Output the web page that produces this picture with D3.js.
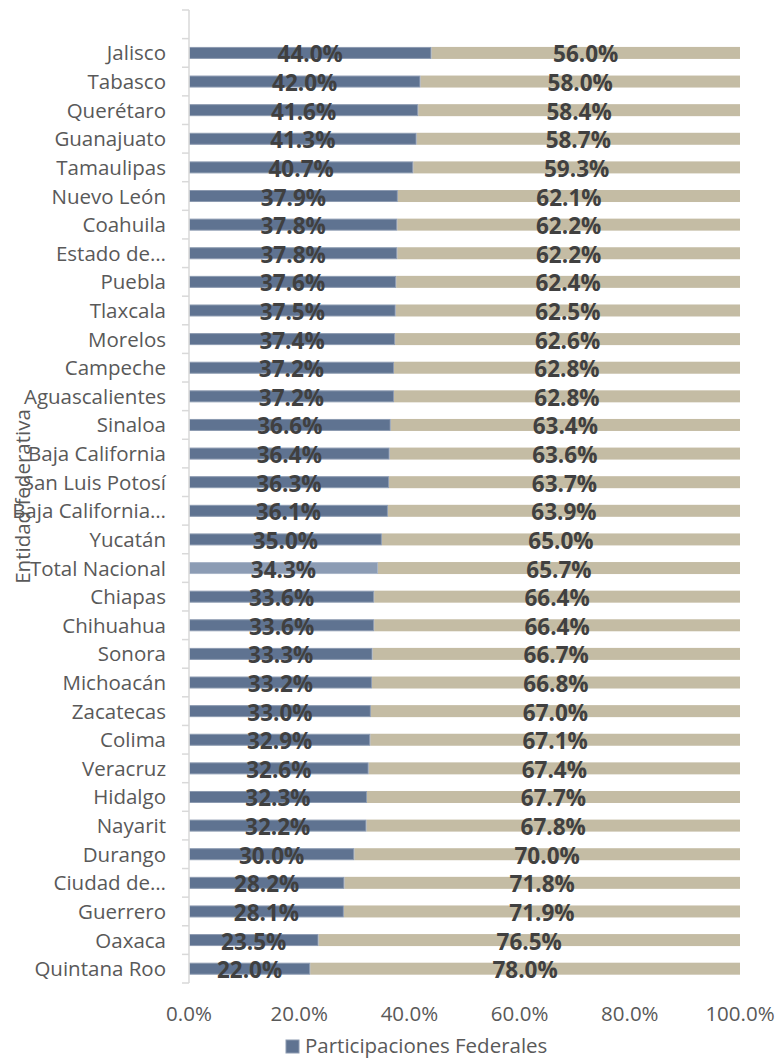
<!DOCTYPE html>
<html>
<head>
<meta charset="utf-8">
<script src="https://cdn.jsdelivr.net/npm/d3@7"></script>
<style>
  body { margin: 0; background: #fff; }
  text { font-family: "Open Sans", "Noto Sans", sans-serif; }
</style>
</head>
<body>
<svg id="chart" width="777" height="1059"></svg>
<script>
// categories top to bottom (first one is an empty slot in the original)
const states = ["", "Jalisco", "Tabasco", "Querétaro", "Guanajuato", "Tamaulipas", "Nuevo León",
  "Coahuila", "Estado de…", "Puebla", "Tlaxcala", "Morelos", "Campeche", "Aguascalientes",
  "Sinaloa", "Baja California", "San Luis Potosí", "Baja California…", "Yucatán",
  "Total Nacional", "Chiapas", "Chihuahua", "Sonora", "Michoacán", "Zacatecas", "Colima",
  "Veracruz", "Hidalgo", "Nayarit", "Durango", "Ciudad de…", "Guerrero", "Oaxaca", "Quintana Roo"];
const federal = [null, 44.0, 42.0, 41.6, 41.3, 40.7, 37.9, 37.8, 37.8, 37.6, 37.5, 37.4, 37.2, 37.2,
  36.6, 36.4, 36.3, 36.1, 35.0, 34.3, 33.6, 33.6, 33.3, 33.2, 33.0, 32.9, 32.6, 32.3, 32.2,
  30.0, 28.2, 28.1, 23.5, 22.0];
const other = [null, 56.0, 58.0, 58.4, 58.7, 59.3, 62.1, 62.2, 62.2, 62.4, 62.5, 62.6, 62.8, 62.8,
  63.4, 63.6, 63.7, 63.9, 65.0, 65.7, 66.4, 66.4, 66.7, 66.8, 67.0, 67.1, 67.4, 67.7, 67.8,
  70.0, 71.8, 71.9, 76.5, 78.0];
const xTicks = [0, 20, 40, 60, 80, 100];

const svg = d3.select("#chart");
const mLeft = 189, mRight = 740, mTop = 10, mBottom = 983;

const x = d3.scaleLinear().domain([0, 100]).range([mLeft, mRight]);
const y = d3.scaleBand().domain(d3.range(states.length)).range([mTop, mBottom]);
const barH = 12;
const cy = i => y(i) + y.bandwidth() / 2;

const rows = states.map((s, i) => ({ name: s, i: i, a: federal[i], b: other[i] }))
  .filter(d => d.a !== null);

// tan segment
svg.selectAll("rect.b").data(rows).enter().append("rect")
  .attr("x", d => x(d.a))
  .attr("y", d => cy(d.i) - barH / 2)
  .attr("width", d => x(d.a + d.b) - x(d.a))
  .attr("height", barH)
  .attr("fill", "#c4bca4");

// blue segment
svg.selectAll("rect.a").data(rows).enter().append("rect")
  .attr("x", x(0) + 0.5)
  .attr("y", d => cy(d.i) - barH / 2 + 0.5)
  .attr("width", d => x(d.a) - x(0) - 1)
  .attr("height", barH - 1)
  .attr("fill", d => d.name === "Total Nacional" ? "#8c9cb4" : "#5f7391")
  .attr("stroke", d => d.name === "Total Nacional" ? "#a9b5c7" : "#8c9ab0")
  .attr("stroke-width", 1);

// y axis
svg.append("line").attr("x1", mLeft).attr("x2", mLeft).attr("y1", mTop).attr("y2", mBottom)
  .attr("stroke", "#d9d9d9").attr("stroke-width", 1.5);
const tickYs = d3.range(states.length).map(i => y(i)).concat([mBottom]);
svg.selectAll("line.tick").data(tickYs).enter().append("line")
  .attr("x1", mLeft - 7).attr("x2", mLeft)
  .attr("y1", d => d).attr("y2", d => d)
  .attr("stroke", "#d9d9d9").attr("stroke-width", 1.5);

// category labels
svg.selectAll("text.cat").data(rows).enter().append("text")
  .attr("x", 166)
  .attr("y", d => cy(d.i) + 7.5)
  .attr("text-anchor", "end")
  .attr("font-size", 20.5)
  .attr("fill", "#595959")
  .text(d => d.name);

// data labels
svg.selectAll("text.la").data(rows).enter().append("text")
  .attr("x", d => (x(0) + x(d.a)) / 2)
  .attr("y", d => cy(d.i) + 9.5)
  .attr("text-anchor", "middle")
  .attr("font-size", 22.5)
  .attr("font-weight", "bold")
  .attr("fill", "#404040")
  .text(d => d.a.toFixed(1) + "%");
svg.selectAll("text.lb").data(rows).enter().append("text")
  .attr("x", d => (x(d.a) + x(d.a + d.b)) / 2)
  .attr("y", d => cy(d.i) + 9.5)
  .attr("text-anchor", "middle")
  .attr("font-size", 22.5)
  .attr("font-weight", "bold")
  .attr("fill", "#404040")
  .text(d => d.b.toFixed(1) + "%");

// x tick labels
svg.selectAll("text.xt").data(xTicks).enter().append("text")
  .attr("x", d => x(d))
  .attr("y", 1021)
  .attr("text-anchor", "middle")
  .attr("font-size", 20.5)
  .attr("fill", "#595959")
  .text(d => d.toFixed(1) + "%");

// y title
svg.append("text")
  .attr("transform", `translate(30, ${(mTop + mBottom) / 2}) rotate(-90)`)
  .attr("text-anchor", "middle")
  .attr("font-size", 20.5)
  .attr("fill", "#595959")
  .text("Entidad federativa");

// legend
svg.append("rect").attr("x", 286).attr("y", 1040).attr("width", 13).attr("height", 13)
  .attr("fill", "#5f7391").attr("stroke", "#8c9ab0");
svg.append("text").attr("x", 305).attr("y", 1053)
  .attr("font-size", 20.5).attr("fill", "#595959")
  .text("Participaciones Federales");
</script>
</body>
</html>
